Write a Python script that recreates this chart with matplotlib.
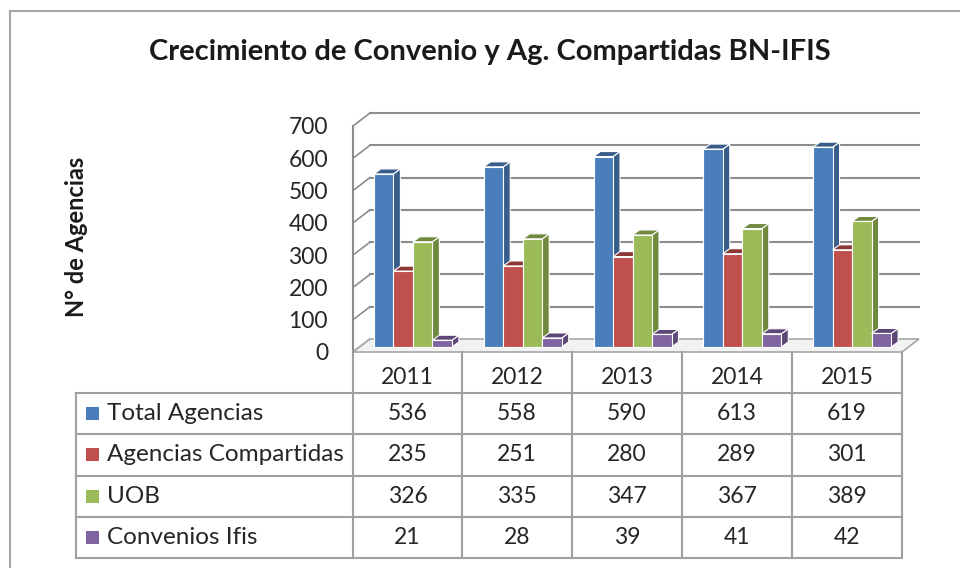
import matplotlib
matplotlib.use("Agg")
import matplotlib.pyplot as plt
from matplotlib.patches import Polygon, Rectangle
from matplotlib.lines import Line2D

plt.rcParams['font.family'] = ['Lato', 'DejaVu Sans']

# data
years = ['2011', '2012', '2013', '2014', '2015']
series = ['Total Agencias', 'Agencias Compartidas', 'UOB', 'Convenios Ifis']
total = [536, 558, 590, 613, 619]
compartidas = [235, 251, 280, 289, 301]
uob = [326, 335, 347, 367, 389]
convenios = [21, 28, 39, 41, 42]
values = [total, compartidas, uob, convenios]
yticks = [0, 100, 200, 300, 400, 500, 600, 700]

front = ['#4A7EBB', '#C0504D', '#9BBB59', '#8064A2']
dark = ['#385D8A', '#8C3836', '#71893F', '#5C4776']

W, H = 960, 568
fig = plt.figure(figsize=(W / 100, H / 100), dpi=100)

def fx(px):
    return px / W

def fy(py):
    return 1 - py / H

# front plane of the 3d plot
left, right, y0, y700 = 353, 902, 352, 126
ax = fig.add_axes([fx(left), fy(y0), (right - left) / W, (y0 - y700) / H])
ax.set_xlim(-0.5, len(years) - 0.5)
ax.set_ylim(0, 700)
for s in ax.spines.values():
    s.set_visible(False)
ax.set_xticks([])
ax.set_yticks(yticks)
ax.tick_params(axis='y', length=0, pad=18, labelsize=16.5, labelcolor='#262626')

# data units per pixel
ux = len(years) / (right - left)
uy = 700 / (y0 - y700)
gdx, gdy = 17 * ux, 13 * uy   # depth of the walls
grid = '#8C8C8C'

# floor
ax.add_patch(Polygon([(-0.5, 0), (4.5, 0), (4.5 + gdx, gdy), (-0.5 + gdx, gdy)],
                     closed=True, facecolor='#F2F2F2', edgecolor='#A6A6A6',
                     lw=1.2, zorder=2, clip_on=False))
# back wall grid and left wall
for v in yticks[1:]:
    ax.plot([-0.5 + gdx, 4.5 + gdx], [v + gdy, v + gdy], color=grid, lw=1.5,
            zorder=1, clip_on=False)
for v in yticks:
    ax.plot([-0.5, -0.5 + gdx], [v, v + gdy], color=grid, lw=1.2,
            zorder=1, clip_on=False)
ax.plot([-0.5, -0.5], [0, 700], color=grid, lw=1.5, zorder=1, clip_on=False)

# bars
w = 19.5 * ux
bx, by = 5 * ux, 5 * uy
dx, dy = 7 * ux, 5 * uy
for i, vals in enumerate(values):
    xs = [j + (i - 2) * w + bx for j in range(len(years))]
    for xl, v in zip(xs, vals):
        xr = xl + w
        ax.add_patch(Polygon([(xr, by), (xr, by + v), (xr + dx, by + v + dy), (xr + dx, by + dy)],
                             closed=True, facecolor=dark[i], edgecolor='white', lw=0.8,
                             zorder=3 + 2 * i, clip_on=False))
        ax.add_patch(Polygon([(xl, by + v), (xr, by + v), (xr + dx, by + v + dy), (xl + dx, by + v + dy)],
                             closed=True, facecolor=dark[i], edgecolor='white', lw=0.8,
                             zorder=3 + 2 * i, clip_on=False))
    ax.bar(xs, vals, width=w, bottom=by, align='edge', color=front[i],
           edgecolor='white', lw=0.8, zorder=4 + 2 * i, clip_on=False)

# title and axis label
fig.text(fx(490), fy(52), 'Crecimiento de Convenio y Ag. Compartidas BN-IFIS',
         ha='center', va='center', fontsize=21, fontweight='bold', color='#1A1A1A')
fig.text(fx(77), fy(237), 'N° de Agencias', rotation=90, ha='center', va='center',
         fontsize=17, fontweight='bold', color='#1A1A1A')

# outer frame
fig.add_artist(Line2D([fx(10), fx(960)], [fy(11), fy(11)], color='#A6A6A6', lw=1.5,
                      transform=fig.transFigure))
fig.add_artist(Line2D([fx(10), fx(10)], [fy(11), fy(568)], color='#A6A6A6', lw=1.5,
                      transform=fig.transFigure))

# data table
tcol = '#A0A0A0'
cols = [353, 462, 572, 682, 792, 902]
rows = [393, 434, 475.5, 517, 558]
for c in cols:
    fig.add_artist(Line2D([fx(c), fx(c)], [fy(352), fy(rows[-1])], color=tcol, lw=1.5,
                          transform=fig.transFigure))
fig.add_artist(Line2D([fx(76), fx(76)], [fy(rows[0]), fy(rows[-1])], color=tcol, lw=1.5,
                      transform=fig.transFigure))
for r in rows:
    fig.add_artist(Line2D([fx(76), fx(902)], [fy(r), fy(r)], color=tcol, lw=1.5,
                          transform=fig.transFigure))

for j, yr in enumerate(years):
    cx = (cols[j] + cols[j + 1]) / 2
    fig.text(fx(cx), fy(378), yr, ha='center', va='center', fontsize=16.5, color='#262626')
    for i, vals in enumerate(values):
        cy = (rows[i] + rows[i + 1]) / 2
        fig.text(fx(cx), fy(cy), str(vals[j]), ha='center', va='center',
                 fontsize=16.5, color='#262626')

for i, name in enumerate(series):
    cy = (rows[i] + rows[i + 1]) / 2
    fig.add_artist(Rectangle((fx(86), fy(cy + 6.5)), 13 / W, 13 / H, facecolor=front[i],
                             edgecolor='none', transform=fig.transFigure))
    fig.text(fx(107), fy(cy), name, ha='left', va='center', fontsize=17.5, color='#262626')

fig.savefig('out.png', dpi=100)
